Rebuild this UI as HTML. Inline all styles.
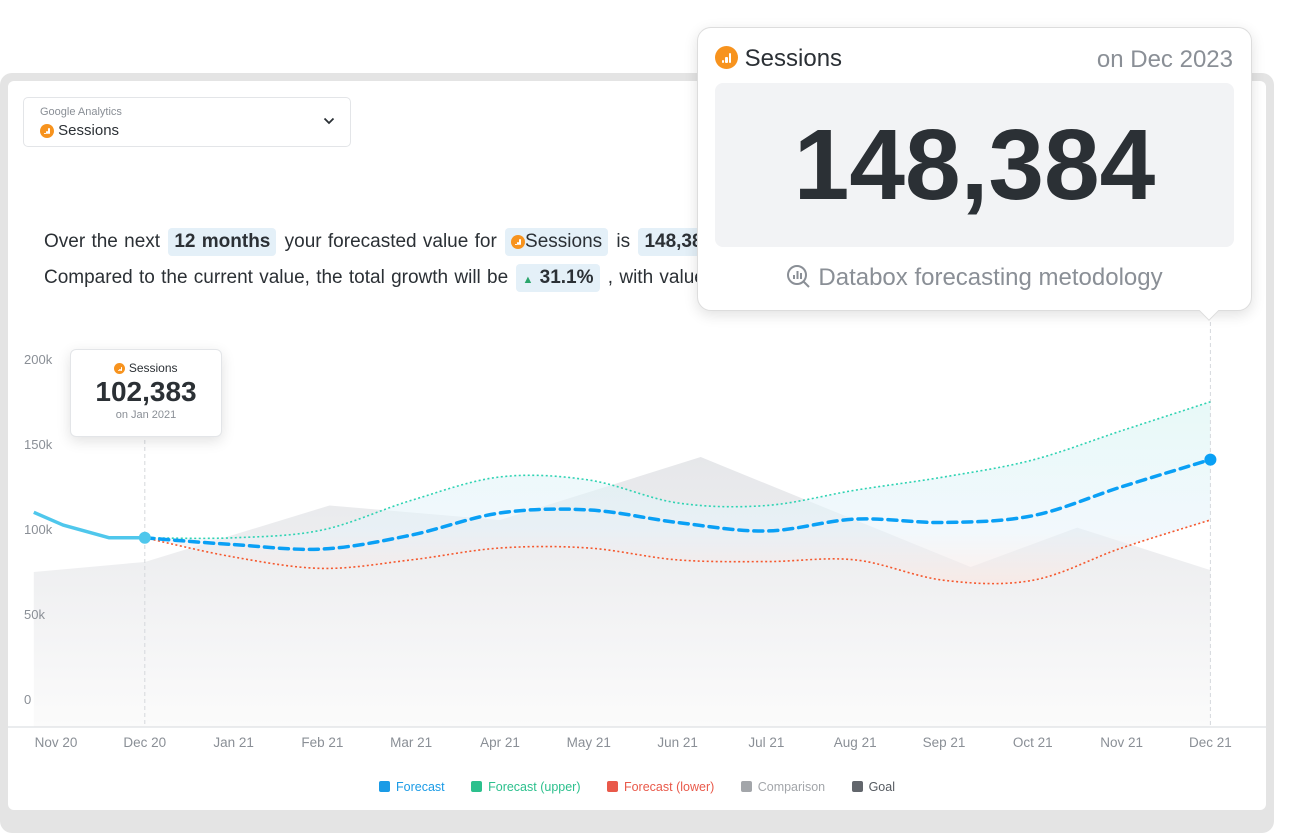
<!DOCTYPE html>
<html><head><meta charset="utf-8">
<style>
*{box-sizing:border-box;margin:0;padding:0}
body{width:1294px;height:817px;background:#fff;position:relative;overflow:hidden;font-family:"Liberation Sans",sans-serif;color:#2b3035}
.frame{position:absolute;left:0;top:73px;width:1274px;height:760px;background:#e4e4e4;border-radius:12px}
.card{position:absolute;left:8px;top:81px;width:1258px;height:729px;background:#fff;border-radius:6px}
.dd{position:absolute;left:23px;top:97px;width:328px;height:50px;border:1px solid #e3e5e8;border-radius:5px;background:#fff}
.ga{display:inline-block;width:14px;height:14px;border-radius:50%;background:#f7931e;vertical-align:middle;position:relative}
.ga b{position:absolute;bottom:27%;width:11%;background:#fff;border-radius:1px}
.ga b:nth-child(1){left:30%;height:12%}
.ga b:nth-child(2){left:45%;height:26%}
.ga b:nth-child(3){left:60%;height:42%}
.txt{position:absolute;left:44px;font-size:19px;color:#2b3035;white-space:nowrap;word-spacing:1px}
.pill{display:inline-block;background:#e4f0f8;border-radius:4px;padding:3px 6px;font-weight:bold;margin:0 2px}
.tip{position:absolute;background:#fff;border:1px solid #e3e5e8;border-radius:6px;box-shadow:0 4px 14px rgba(0,0,0,.12)}
.lg{display:inline-block;font-size:12.5px;margin-right:22px}
.lg i{display:inline-block;width:11px;height:11px;border-radius:2px;vertical-align:-1px;margin-right:6px}
</style></head><body>
<div class="frame"></div>
<div class="card"></div>

<div class="dd">
  <div style="position:absolute;left:16px;top:8px;font-size:11px;color:#8a8f96">Google Analytics</div>
  <div style="position:absolute;left:16px;top:24px;font-size:15px;color:#2b3035"><span class="ga"><b></b><b></b><b></b></span> Sessions</div>
  <svg style="position:absolute;right:15px;top:19px" width="12" height="8"><path d="M1.5 1.5 L6 6 L10.5 1.5" fill="none" stroke="#2b3035" stroke-width="1.8"/></svg>
</div>

<div class="txt" style="top:228px">Over the next <span class="pill">12 months</span> your forecasted value for <span class="pill" style="font-weight:normal"><span class="ga"><b></b><b></b><b></b></span>Sessions</span> is <span class="pill">148,384</span></div>
<div class="txt" style="top:264px">Compared to the current value, the total growth will be <span class="pill"><span style="color:#2aa56b;font-size:11px">&#9650;</span> 31.1%</span> , with values</div>

<svg id="chart" style="position:absolute;left:0;top:0" width="1294" height="817">
<defs>
<linearGradient id="cmpG" x1="0" y1="0" x2="0" y2="1"><stop offset="0" stop-color="#e6e7ea"/><stop offset="1" stop-color="#fbfbfb"/></linearGradient>
<linearGradient id="bandG" x1="0" y1="0" x2="0" y2="1"><stop offset="0" stop-color="#d8f5f2" stop-opacity=".6"/><stop offset="0.7" stop-color="#e6f3fb" stop-opacity=".55"/><stop offset="1" stop-color="#fde6df" stop-opacity=".6"/></linearGradient>
</defs>
</svg>

<div class="tip" style="left:70px;top:349px;width:152px;height:88px;text-align:center">
  <div style="font-size:12px;margin-top:11px"><span class="ga" style="width:11px;height:11px"><b></b><b></b><b></b></span> Sessions</div>
  <div style="font-size:28px;font-weight:bold;margin-top:1px">102,383</div>
  <div style="font-size:11px;color:#8a8f96;margin-top:1px">on Jan 2021</div>
</div>

<div class="tip" style="left:697px;top:27px;width:555px;height:284px;border-radius:14px;border-color:#ddd">
  <div style="position:absolute;left:17px;top:17px;font-size:24px"><span class="ga" style="width:23px;height:23px;vertical-align:-3px"><b></b><b></b><b></b></span> Sessions</div>
  <div style="position:absolute;right:18px;top:18px;font-size:24px;color:#8a8f96">on Dec 2023</div>
  <div style="position:absolute;left:17px;top:55px;width:519px;height:164px;background:#f2f3f5;border-radius:8px;text-align:center;font-size:100px;font-weight:bold;line-height:164px;color:#2b3035">148,384</div>
  <div style="position:absolute;left:0;right:0;top:236px;text-align:center;font-size:24px;color:#8a8f96"><svg width="26" height="26" style="vertical-align:-5px;margin-right:6px"><circle cx="11" cy="11" r="9" fill="none" stroke="#8a8f96" stroke-width="2"/><line x1="17.5" y1="17.5" x2="23" y2="23" stroke="#8a8f96" stroke-width="2"/><rect x="7" y="11" width="2" height="4" fill="#8a8f96"/><rect x="10.5" y="7" width="2" height="8" fill="#8a8f96"/><rect x="14" y="9" width="2" height="6" fill="#8a8f96"/></svg>Databox forecasting metodology</div>
  <div style="position:absolute;left:504px;top:276px;width:14px;height:14px;background:#fff;border-right:1px solid #ddd;border-bottom:1px solid #ddd;transform:rotate(45deg)"></div>
</div>

<div style="position:absolute;left:0;width:1294px;top:778px;text-align:center;padding-left:2px">
  <span class="lg" style="color:#1a9be6"><i style="background:#1a9be6"></i>Forecast</span>
  <span class="lg" style="color:#2cc08d"><i style="background:#2cc08d"></i>Forecast (upper)</span>
  <span class="lg" style="color:#e9594a"><i style="background:#e9594a"></i>Forecast (lower)</span>
  <span class="lg" style="color:#a3a6aa"><i style="background:#a3a6aa"></i>Comparison</span>
  <span class="lg" style="color:#555a60"><i style="background:#62666c"></i>Goal</span>
</div>

<script>
const months=["Nov 20","Dec 20","Jan 21","Feb 21","Mar 21","Apr 21","May 21","Jun 21","Jul 21","Aug 21","Sep 21","Oct 21","Nov 21","Dec 21"];
const yTicks=[0,50000,100000,150000,200000];
const yTickLabels=["0","50k","100k","150k","200k"];
const actualIdx=[-0.25,0.08,0.6,1];
const actualVals=[111000,103500,96000,96000];
const forecastVals=[96000,92000,89400,97600,110600,112400,105000,100000,107000,105000,109000,126000,142000];
const upperVals=[96000,96000,100600,118000,131800,130000,116500,115000,124000,131800,141800,159000,176000];
const lowerVals=[96000,84700,78000,83000,90000,90000,83000,82000,83000,71000,71000,90000,106500];
const cmpIdx=[-0.25,1,3.08,5,7.26,10.3,11.5,13];
const cmpVals=[75900,81800,115000,106500,143500,78800,102000,77000];

const NS="http://www.w3.org/2000/svg";
const svg=document.getElementById('chart');
const X=i=>56+i*88.8;
const Y=v=>701-v*0.0017;
function mk(t,a){const e=document.createElementNS(NS,t);for(const k in a)e.setAttribute(k,a[k]);svg.appendChild(e);return e;}
function smooth(p){let d="M"+p[0][0]+","+p[0][1];for(let i=0;i<p.length-1;i++){const p0=p[i-1]||p[i],p1=p[i],p2=p[i+1],p3=p[i+2]||p2;
d+=" C"+(p1[0]+(p2[0]-p0[0])/6)+","+(p1[1]+(p2[1]-p0[1])/6)+" "+(p2[0]-(p3[0]-p1[0])/6)+","+(p2[1]-(p3[1]-p1[1])/6)+" "+p2[0]+","+p2[1];}return d;}
const fIdx=forecastVals.map((v,i)=>i+1);

let cp=cmpIdx.map((ix,k)=>[X(ix),Y(cmpVals[k])]);
let cmp=mk('path',{d:"M"+cp.map(p=>p.join(",")).join(" L")+" L"+X(13)+",727 L"+X(-0.25)+",727 Z",fill:"url(#cmpG)"});



const up=upperVals.map((v,i)=>[X(fIdx[i]),Y(v)]);
const lo=lowerVals.map((v,i)=>[X(fIdx[i]),Y(v)]);
const loRev=lo.slice().reverse();
let band=mk('path',{d:smooth(up)+" L"+smooth(loRev).slice(1)+" Z",fill:"url(#bandG)"});



let ax=mk('line',{x1:8,x2:1266,y1:727,y2:727,stroke:"#e3e5e8","stroke-width":1.5});


yTicks.forEach((t,k)=>{const e=mk('text',{x:24,y:Y(t)+3,"font-size":13,fill:"#8a8f96","font-family":"Liberation Sans, sans-serif"});e.textContent=yTickLabels[k];

});
months.forEach((m,i)=>{const e=mk('text',{x:X(i),y:747,"font-size":13.5,fill:"#8a8f96","text-anchor":"middle","font-family":"Liberation Sans, sans-serif"});e.textContent=m;

});

let g1=mk('line',{x1:X(1),x2:X(1),y1:440,y2:727,stroke:"#d5d8dc","stroke-dasharray":"4 3"});


let g2=mk('line',{x1:X(13),x2:X(13),y1:322,y2:727,stroke:"#d5d8dc","stroke-dasharray":"4 3"});



let uL=mk('path',{d:smooth(up),fill:"none",stroke:"#2fd3b3","stroke-width":1.6,"stroke-dasharray":"2 2.5"});


let lL=mk('path',{d:smooth(lo),fill:"none",stroke:"#f5582e","stroke-width":1.6,"stroke-dasharray":"2 2.5"});


const fp=forecastVals.map((v,i)=>[X(fIdx[i]),Y(v)]);
let fL=mk('path',{d:smooth(fp),fill:"none",stroke:"#0aa0f5","stroke-width":3.5,"stroke-dasharray":"9 6","stroke-linecap":"round"});


const ap=actualIdx.map((ix,k)=>[X(ix),Y(actualVals[k])]);
let aL=mk('path',{d:"M"+ap.map(p=>p.join(",")).join(" L"),fill:"none",stroke:"#4fc7ec","stroke-width":3.5,"stroke-linejoin":"round"});


let d1=mk('circle',{cx:ap[ap.length-1][0],cy:ap[ap.length-1][1],r:6,fill:"#4fc7ec"});


let d2=mk('circle',{cx:fp[fp.length-1][0],cy:fp[fp.length-1][1],r:6,fill:"#0aa0f5"});


</script>
</body></html>
